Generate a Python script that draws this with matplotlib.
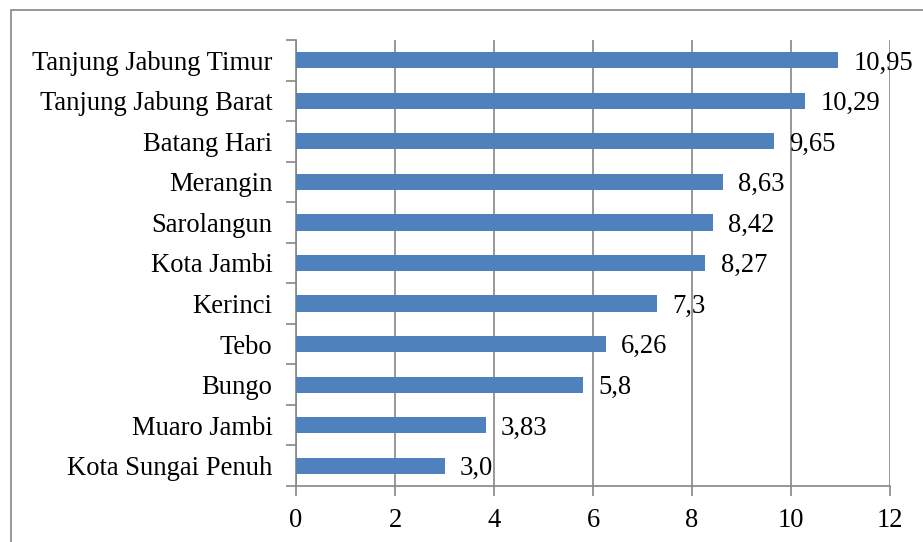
import matplotlib
matplotlib.use("Agg")
import matplotlib.pyplot as plt
from matplotlib.patches import Rectangle

categories = ["Tanjung Jabung Timur", "Tanjung Jabung Barat", "Batang Hari", "Merangin",
              "Sarolangun", "Kota Jambi", "Kerinci", "Tebo", "Bungo", "Muaro Jambi",
              "Kota Sungai Penuh"]
values = [10.95, 10.29, 9.65, 8.63, 8.42, 8.27, 7.3, 6.26, 5.8, 3.83, 3.0]
value_labels = ["10,95", "10,29", "9,65", "8,63", "8,42", "8,27", "7,3", "6,26", "5,8", "3,83", "3,0"]
x_ticks = [0, 2, 4, 6, 8, 10, 12]

plt.rcParams['font.family'] = ['Liberation Serif', 'DejaVu Serif']
FS = 19.2

fig = plt.figure(figsize=(9.23, 5.42), dpi=100)
ax = fig.add_axes([296/923, 1-486/542, (890-296)/923, (486-40)/542])

n = len(categories)
ypos = list(range(n))[::-1]
ax.barh(ypos, values, height=0.4, color="#4F81BD", zorder=3)
for y, v, lab in zip(ypos, values, value_labels):
    ax.annotate(lab, (v, y), xytext=(11, -2), textcoords="offset points",
                ha="left", va="center", fontsize=FS, zorder=4)

ax.set_xlim(0, 12)
ax.set_ylim(-0.5, n-0.5)
ax.set_xticks(x_ticks)
ax.set_xticklabels([str(t) for t in x_ticks], fontsize=FS)
ax.set_yticks(ypos)
ax.set_yticklabels(categories, fontsize=FS)
ax.tick_params(axis='y', length=0, pad=17)
ax.set_yticks([i - 0.5 for i in range(n+1)], minor=True)
ax.tick_params(axis='y', which='minor', length=7, color="#868686", width=1.2)
ax.tick_params(axis='x', length=7, color="#868686", width=1.2, pad=9)
ax.grid(axis='x', color="#868686", linewidth=1.2, zorder=0)
for s in ['top', 'right']:
    ax.spines[s].set_visible(False)
for s in ['left', 'bottom']:
    ax.spines[s].set_color("#868686")
    ax.spines[s].set_linewidth(1.2)

fig.patches.append(Rectangle((11/923, -0.1), 1.2, 1.1 - 10/542, transform=fig.transFigure,
                             fill=False, edgecolor="#868686", linewidth=1.2))

fig.savefig("out.png", dpi=100)
